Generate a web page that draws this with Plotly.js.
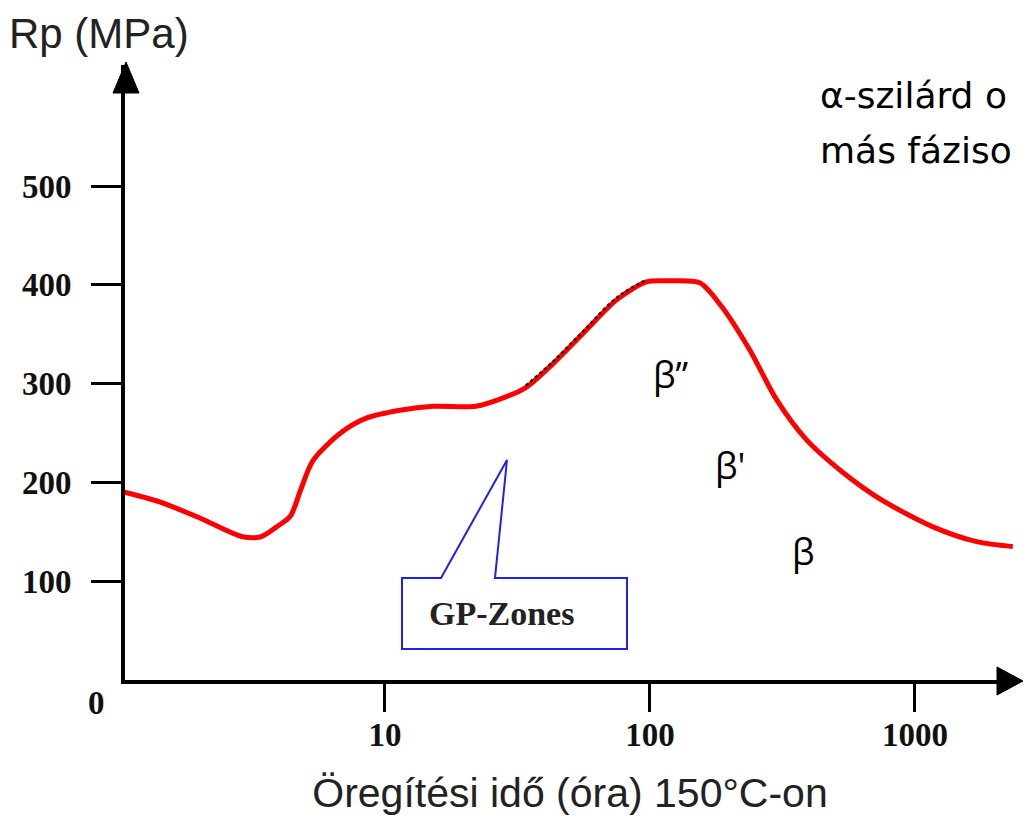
<!DOCTYPE html>
<html>
<head>
<meta charset="utf-8">
<script src="https://cdn.plot.ly/plotly-3.0.1.min.js"></script>
<style>html,body{margin:0;padding:0;background:#fff;}#chart{width:1023px;height:818px;}</style>
</head>
<body>
<div id="chart"></div>
<script>
// Aging time (hours at 150 °C) and yield strength Rp (MPa)
const agingTime = [1.04, 1.42, 2.0, 2.9, 3.4, 3.9, 4.4, 4.8, 5.35, 6.8, 8.5, 11.4, 15.2, 22, 27, 34, 43, 56, 75, 97, 116, 154, 184, 238, 300, 390, 535, 740, 1170, 1710, 2340];
const rpValues  = [190, 180, 164, 145, 145, 155, 166, 192, 222, 250, 265, 273, 277, 277, 284, 296, 320, 351, 385, 403, 404, 402, 380, 334, 284, 243, 210, 183, 155, 140, 135];

// dotted dark overlay on the rising part (subset of the same curve)
const overlayStart = 15, overlayEnd = 20;

const xTickVals = [10, 100, 1000];
const xTickText = ['10', '100', '1000'];
const yTickVals = [100, 200, 300, 400, 500];
const yTickText = ['100', '200', '300', '400', '500'];

const xTitle = 'Öregítési idő (óra) 150°C-on';
const yTitle = 'Rp (MPa)';
const phaseLabels = ['β”', "β'", 'β'];
const calloutLabel = 'GP-Zones';
const headerLines = ['α-szilárd o', 'más fáziso'];

const traces = [
  {
    x: agingTime, y: rpValues, type: 'scatter', mode: 'lines',
    line: {color: '#ff0000', width: 5, shape: 'spline', smoothing: 0.8},
    hoverinfo: 'skip', showlegend: false
  },
  {
    x: agingTime.slice(overlayStart, overlayEnd), y: rpValues.slice(overlayStart, overlayEnd).map(v => v + 2),
    type: 'scatter', mode: 'lines',
    line: {color: '#3a1010', width: 2.5, dash: 'dot', shape: 'spline'},
    hoverinfo: 'skip', showlegend: false
  }
];

const serif = 'Liberation Serif, Times New Roman, serif';
const sans = 'Liberation Sans, Arial, sans-serif';
const calibriLike = 'Open Sans, Noto Sans, sans-serif';
const wideSans = 'DejaVu Sans, Verdana, sans-serif';

// pixel-to-paper helpers for the decorations (plot area: x 125..1015, y 65..680)
const PX = p => (p - 125) / 890;
const PY = p => (680 - p) / 615;

const layout = {
  width: 1023, height: 818,
  margin: {l: 125, r: 8, t: 65, b: 138},
  paper_bgcolor: '#ffffff', plot_bgcolor: '#ffffff',
  showlegend: false,
  xaxis: {
    type: 'log', range: [0.019, 0.019 + 890 / 265],
    tickvals: xTickVals, ticktext: xTickText,
    ticks: 'outside', ticklen: 28, tickwidth: 3, tickcolor: '#000',
    showline: true, linewidth: 4, linecolor: '#000',
    showgrid: false, zeroline: false,
    tickfont: {family: serif, size: 33, color: '#111', weight: 'bold'},
    ticklabelstandoff: -6,
    title: {text: xTitle, font: {family: sans, size: 41, color: '#222'}, standoff: 28}
  },
  yaxis: {
    range: [0, 615 / 0.988],
    tickvals: yTickVals, ticktext: yTickText,
    ticks: 'outside', ticklen: 30, tickwidth: 3, tickcolor: '#000',
    showline: true, linewidth: 4, linecolor: '#000',
    showgrid: false, zeroline: false,
    tickfont: {family: serif, size: 33, color: '#111', weight: 'bold'},
    ticklabelstandoff: 13
  },
  shapes: [
    // arrowheads of the axes
    {type: 'path', xref: 'paper', yref: 'paper',
     path: `M ${PX(997)},${PY(667)} L ${PX(1023)},${PY(681)} L ${PX(997)},${PY(695)} Z`,
     fillcolor: '#000', line: {color: '#000', width: 1}},
    {type: 'path', xref: 'paper', yref: 'paper',
     path: `M ${PX(113)},${PY(93)} L ${PX(126)},${PY(62)} L ${PX(139)},${PY(93)} Z`,
     fillcolor: '#000', line: {color: '#000', width: 1}},
    // GP-Zones callout box
    {type: 'path', xref: 'paper', yref: 'paper',
     path: `M ${PX(402)},${PY(578)} L ${PX(441)},${PY(578)} L ${PX(507)},${PY(460)} L ${PX(495)},${PY(578)} L ${PX(627)},${PY(578)} L ${PX(627)},${PY(649)} L ${PX(402)},${PY(649)} Z`,
     fillcolor: 'rgba(255,255,255,0)', line: {color: '#2020f0', width: 2}}
  ],
  annotations: [
    {xref: 'paper', yref: 'paper', x: PX(7), y: PY(33), xanchor: 'left', yanchor: 'middle',
     text: yTitle, showarrow: false, font: {family: sans, size: 42, color: '#222'}},
    {xref: 'paper', yref: 'paper', x: PX(96), y: PY(703), xanchor: 'center', yanchor: 'middle',
     text: '0', showarrow: false, font: {family: serif, size: 33, color: '#111', weight: 'bold'}},
    {xref: 'paper', yref: 'paper', x: PX(501), y: PY(613), xanchor: 'center', yanchor: 'middle',
     text: calloutLabel, showarrow: false, font: {family: serif, size: 34, color: '#222', weight: 'bold'}},
    {xref: 'paper', yref: 'paper', x: PX(671), y: PY(374), xanchor: 'center', yanchor: 'middle',
     text: phaseLabels[0], showarrow: false, font: {family: calibriLike, size: 36, color: '#000'}},
    {xref: 'paper', yref: 'paper', x: PX(730), y: PY(465), xanchor: 'center', yanchor: 'middle',
     text: phaseLabels[1], showarrow: false, font: {family: calibriLike, size: 36, color: '#000'}},
    {xref: 'paper', yref: 'paper', x: PX(803), y: PY(551), xanchor: 'center', yanchor: 'middle',
     text: phaseLabels[2], showarrow: false, font: {family: calibriLike, size: 36, color: '#000'}},
    {xref: 'paper', yref: 'paper', x: PX(818), y: PY(95), xanchor: 'left', yanchor: 'middle',
     text: headerLines[0], showarrow: false, font: {family: wideSans, size: 36, color: '#000'}},
    {xref: 'paper', yref: 'paper', x: PX(818), y: PY(150), xanchor: 'left', yanchor: 'middle',
     text: headerLines[1], showarrow: false, font: {family: wideSans, size: 36, color: '#000'}}
  ]
};

Plotly.newPlot('chart', traces, layout, {displayModeBar: false, staticPlot: true});
</script>
</body>
</html>
